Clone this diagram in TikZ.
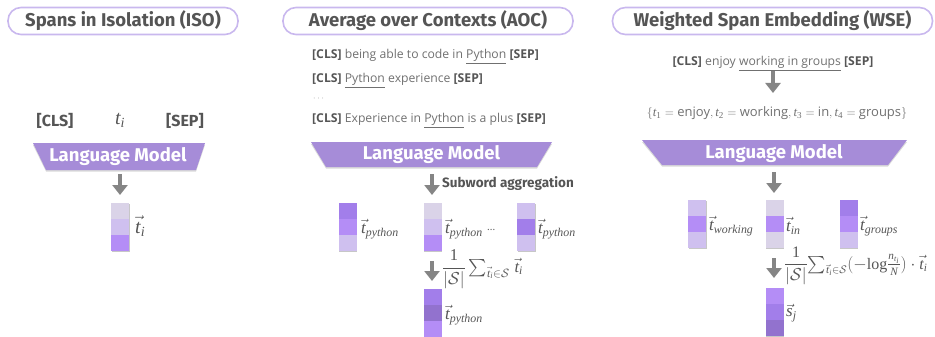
\documentclass[tikz,border=0pt]{standalone}
\usepackage{amsmath}
\usepackage{fontspec}
\setmainfont{Open Sans}
\newfontfamily\titlefont{Fira Sans}
\newfontfamily\tms{Liberation Serif}
\usetikzlibrary{arrows.meta}
\definecolor{txtgrey}{HTML}{555555}
\definecolor{senttxt}{HTML}{707070}
\definecolor{pillborder}{HTML}{C9B8EE}
\definecolor{lmpurple}{HTML}{A68CD8}
\definecolor{arrowgrey}{HTML}{858585}
\definecolor{cA}{HTML}{DAD3E8}
\definecolor{cB}{HTML}{CFC0EF}
\definecolor{cC}{HTML}{B48DF6}
\definecolor{cD}{HTML}{A27EEA}
\definecolor{cE}{HTML}{9272CE}
\tikzset{
  pill/.style={draw=pillborder, line width=1.6pt, rounded corners=13pt, fill=white,
    minimum height=27pt, inner xsep=8pt, font=\titlefont\bfseries\fontsize{18.5}{20}\selectfont, text=txtgrey},
  lmtext/.style={font=\titlefont\bfseries\fontsize{18.5}{20}\selectfont, text=white, inner sep=0pt},
  lmshape/.style={fill=lmpurple},
  cell/.style={minimum width=18pt, minimum height=16pt, inner sep=0pt, draw=none},
  bigarrow/.style={draw=arrowgrey, line width=4.5pt, -{Triangle[width=15pt,length=10pt]}},
  sent/.style={font=\fontsize{12.2}{14}\selectfont, text=senttxt, inner sep=0pt, anchor=west},
  tok/.style={font=\titlefont\bfseries\fontsize{16}{18}\selectfont, text=txtgrey, inner sep=0pt},
  vlabel/.style={font=\fontsize{17}{19}\selectfont, text=txtgrey, inner sep=0pt, anchor=west},
  aggr/.style={font=\titlefont\bfseries\fontsize{13.5}{15}\selectfont, text=txtgrey, inner sep=0pt, anchor=west}
}
\newcommand{\tim}[1]{\text{\tms\itshape #1}}
\newcommand{\tup}[1]{\text{\tms #1}}
\newcommand{\CLS}{\textcolor{txtgrey}{\textbf{[CLS]}}}
\newcommand{\SEP}{\textcolor{txtgrey}{\textbf{[SEP]}}}
% \embvec{name}{x}{ytop}{c1}{c2}{c3}
\newcommand{\embvec}[6]{%
  \fill[black!22] (#2-9+0.8,#3+1.2) rectangle (#2+9+0.8,#3+48+1.2);
  \node[cell, fill=#4] (#1-1) at (#2,#3+8) {};
  \node[cell, fill=#5] (#1-2) at (#2,#3+24) {};
  \node[cell, fill=#6] (#1-3) at (#2,#3+40) {};
}
\begin{document}
\begin{tikzpicture}[x=1pt,y=-1pt]
\useasboundingbox (0,0) rectangle (935,337);

% ---------- titles ----------
\node[pill, minimum width=230pt] (isoT) at (123,21) {Spans in Isolation (ISO)};
\node[pill, minimum width=290pt] (aocT) at (428,21) {Average over Contexts (AOC)};
\node[pill, minimum width=320pt] (wseT) at (772.5,21) {Weighted Span Embedding (WSE)};

% ---------- ISO ----------
\node[tok] (isoCLS) at (55,121) {[CLS]};
\node[tok, font=\fontsize{20}{22}\selectfont] (isoTi) at (120,120) {$\tim{t}_{\tim{i}}$};
\node[tok] (isoSEP) at (185,121) {[SEP]};
\fill[black!15] (33,145) -- (205,145) -- (196,171.5) -- (46,171.5) -- cycle;
\fill[lmshape] (33,143) -- (205,143) -- (196,170) -- (46,170) -- cycle;
\node[lmtext] (isoLM) at (118,157) {Language Model};
\coordinate (isoA1) at (120,174);
\coordinate (isoA2) at (120,195);
\draw[bigarrow] (isoA1) -- (isoA2);
\embvec{isoV}{120}{203}{cA}{cB}{cC}
\node[vlabel, font=\fontsize{20}{22}\selectfont] (isoVl) at (135,226) {$\vec{\tim{t}}_{\tim{i}}$};

% ---------- AOC ----------
\node[sent] (s1) at (312,57) {\CLS{} being able to code in \underline{Python} \SEP};
\node[sent] (s2) at (312,81) {\CLS{} \underline{Python} experience \SEP};
\node[sent, font=\fontsize{8}{10}\selectfont] (s3) at (313,99) {$\cdot\cdot\cdot$};
\node[sent] (s4) at (312,121) {\CLS{} Experience in \underline{Python} is a plus \SEP};
\fill[black!15] (311,144) -- (552,144) -- (537,168.5) -- (326,168.5) -- cycle;
\fill[lmshape] (311,142) -- (552,142) -- (537,167) -- (326,167) -- cycle;
\node[lmtext] (aocLM) at (431.5,155) {Language Model};
\coordinate (aocA1) at (432,174);
\coordinate (aocA2) at (432,195);
\draw[bigarrow] (aocA1) -- (aocA2);
\node[aggr] (aggr) at (442,184) {Subword aggregation};
\embvec{aocV1}{347.5}{203}{cD}{cC}{cB}
\embvec{aocV2}{432.5}{203}{cA}{cB}{cC}
\embvec{aocV3}{526}{203}{cB}{cD}{cB}
\node[vlabel] (aocL1) at (361,229) {$\vec{\tim{t}}_{\tim{python}}$};
\node[vlabel] (aocL2) at (445,229) {$\vec{\tim{t}}_{\tim{python}}$};
\node[vlabel, font=\fontsize{10}{12}\selectfont] (aocDots) at (487,230) {...};
\node[vlabel] (aocL3) at (538,229) {$\vec{\tim{t}}_{\tim{python}}$};
\coordinate (aocB1) at (432,261);
\coordinate (aocB2) at (432,281);
\draw[bigarrow] (aocB1) -- (aocB2);
\node[vlabel, font=\fontsize{16.5}{18}\selectfont] (aocF) at (442,269) {$\dfrac{\tup{1}}{|\mathcal{S}|}\,{\textstyle\sum}_{\vec{\tim{t}}_{\tim{i}}\in\mathcal{S}}\;\vec{\tim{t}}_{\tim{i}}$};
\embvec{aocV4}{432.5}{289}{cD}{cE}{cC}
\node[vlabel] (aocL4) at (445,315) {$\vec{\tim{t}}_{\tim{python}}$};

% ---------- WSE ----------
\node[sent, anchor=center] (w1) at (773,64) {\CLS{} enjoy \underline{working in groups} \SEP};
\coordinate (wseA1) at (773,71);
\coordinate (wseA2) at (773,93);
\draw[bigarrow] (wseA1) -- (wseA2);
\node[sent, anchor=center, font=\fontsize{13}{15}\selectfont] (w2) at (777,113) {$\{\tim{t}_{\tup{1}}=\text{enjoy},\tim{t}_{\tup{2}}=\text{working},\tim{t}_{\tup{3}}=\text{in},\tim{t}_{\tup{4}}=\text{groups}\}$};
\fill[black!15] (642,142) -- (907,142) -- (888,166.5) -- (662,166.5) -- cycle;
\fill[lmshape] (642,140) -- (907,140) -- (888,165) -- (662,165) -- cycle;
\node[lmtext] (wseLM) at (774,154) {Language Model};
\coordinate (wseB1) at (774,172);
\coordinate (wseB2) at (774,193);
\draw[bigarrow] (wseB1) -- (wseB2);
\embvec{wseV1}{697}{200}{cB}{cC}{cB}
\embvec{wseV2}{774.5}{200}{cA}{cC}{cA}
\embvec{wseV3}{848.5}{200}{cD}{cC}{cB}
\node[vlabel] (wseL1) at (709,226) {$\vec{\tim{t}}_{\tim{working}}$};
\node[vlabel] (wseL2) at (786,226) {$\vec{\tim{t}}_{\tim{in}}$};
\node[vlabel] (wseL3) at (860,226) {$\vec{\tim{t}}_{\tim{groups}}$};
\coordinate (wseC1) at (774,258);
\coordinate (wseC2) at (774,278);
\draw[bigarrow] (wseC1) -- (wseC2);
\node[vlabel, font=\fontsize{16}{18}\selectfont] (wseF) at (784,266) {$\dfrac{\tup{1}}{|\mathcal{S}|}{\textstyle\sum}_{\vec{\tim{t}}_{\tim{i}}\in\mathcal{S}}(-\tup{log}\tfrac{\tim{n}_{\tim{t}_{\tim{i}}}}{\tim{N}})\cdot\vec{\tim{t}}_{\tim{i}}$};
\embvec{wseV4}{774.5}{288}{cC}{cD}{cE}
\node[vlabel] (wseL4) at (786,313) {$\vec{\tim{s}}_{\tim{j}}$};
\end{tikzpicture}
\end{document}
